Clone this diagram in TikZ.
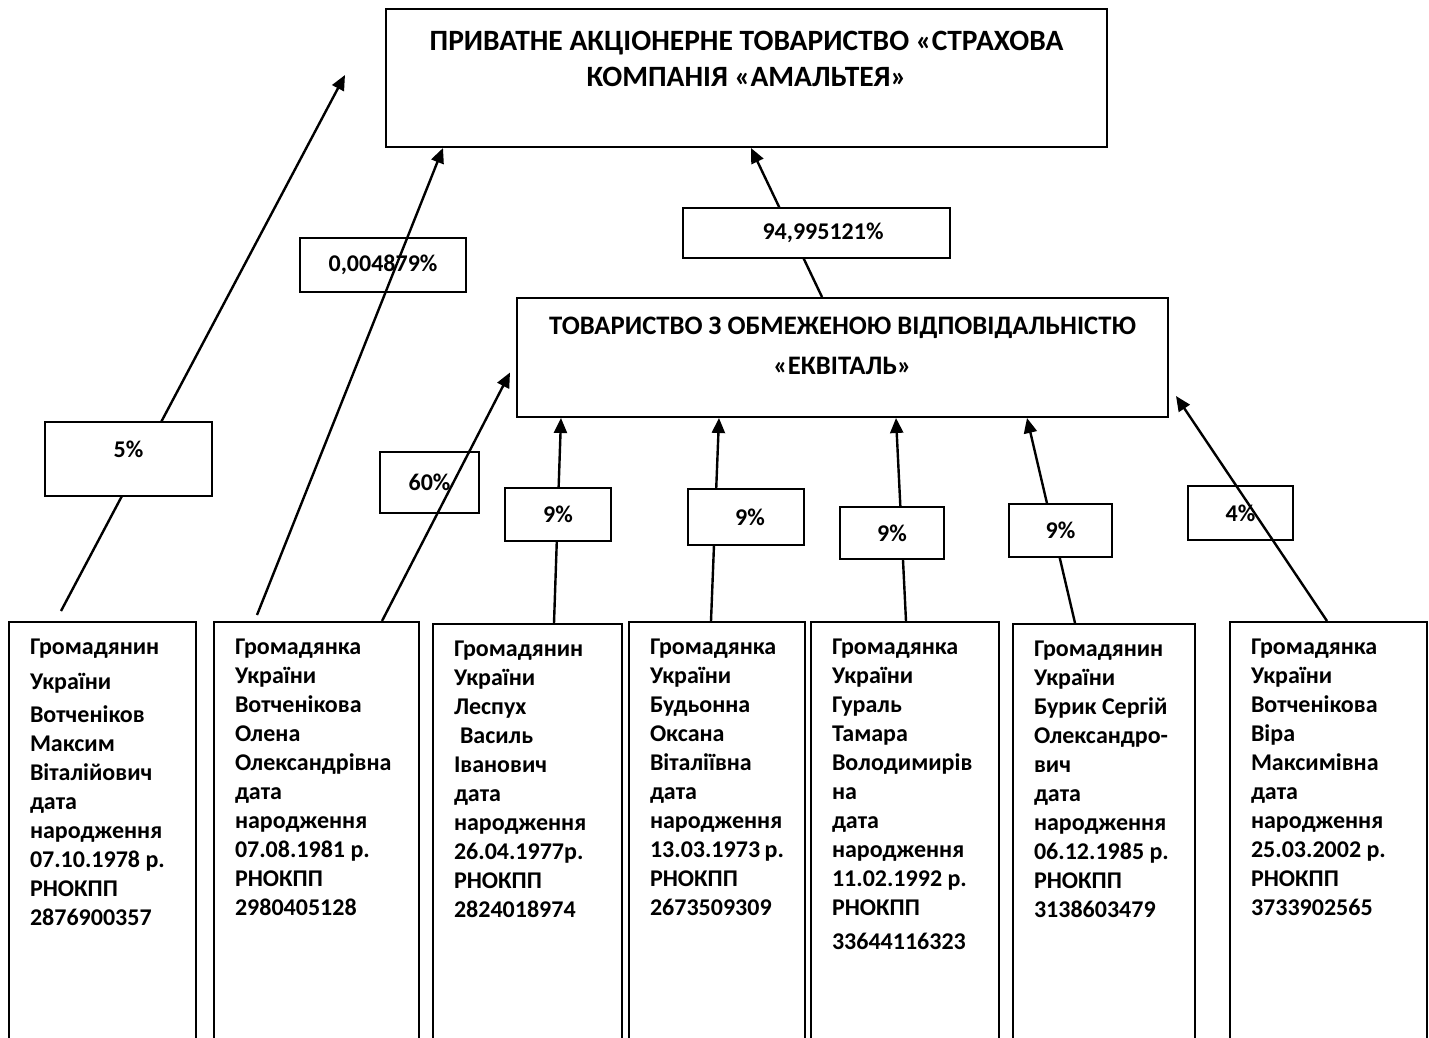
\documentclass[tikz,border=0pt]{standalone}
\usepackage{fontspec}
\setmainfont{Carlito}
\usetikzlibrary{calc,arrows.meta}

\begin{document}
\begin{tikzpicture}[x=1pt,y=-1pt,
    every node/.style={font=\bfseries\fontsize{24}{29}\selectfont},
    box/.style={draw,line width=2pt,inner sep=0pt},
    pbox/.style={box,anchor=north west,inner xsep=21pt},
    lbl/.style={draw,line width=2pt,fill=white,inner sep=0pt},
    arr/.style={line width=2.4pt,-{Triangle[length=15pt,width=13pt]}}]
\useasboundingbox (0,0) rectangle (1429,1038);
\clip (0,0) rectangle (1429,1038);

\node[box] (org) at (746.5,78) {\parbox[c][138pt][t]{721pt}{\centering\fontsize{29.5}{36}\selectfont
    \rule{0pt}{42pt}ПРИВАТНЕ АКЦІОНЕРНЕ ТОВАРИСТВО «СТРАХОВА\\КОМПАНІЯ «АМАЛЬТЕЯ»}};
\node[box] (eqv) at (842.5,357.5) {\parbox[c][119pt][t]{651pt}{\centering\fontsize{26.7}{40}\selectfont
    \rule{0pt}{36.5pt}ТОВАРИСТВО З ОБМЕЖЕНОЮ ВІДПОВІДАЛЬНІСТЮ\\«ЕКВІТАЛЬ»}};

\node[pbox] (p1) at (8,621) {\parbox[t][440pt][t]{145pt}{\raggedright\rule{0pt}{32pt}Громадянин\\[6pt]
    України\\[4pt] Вотченіков\\ Максим\\ Віталійович\\ дата\\ народження\\ 07.10.1978~р.\\ РНОКПП\\ 2876900357}};
\node[pbox] (p2) at (213,621) {\parbox[t][440pt][t]{163pt}{\raggedright\rule{0pt}{32pt}Громадянка\\
    України\\ Вотченікова\\ Олена\\ Олександрівна\\ дата\\ народження\\ 07.08.1981~р.\\ РНОКПП\\ 2980405128}};
\node[pbox] (p3) at (432,623) {\parbox[t][440pt][t]{147pt}{\raggedright\rule{0pt}{32pt}Громадянин\\
    України\\ Леспух\\ \hspace*{6pt}Василь\\ Іванович\\ дата\\ народження\\ 26.04.1977р.\\ РНОКПП\\ 2824018974}};
\node[pbox] (p4) at (628,621) {\parbox[t][440pt][t]{134pt}{\raggedright\rule{0pt}{32pt}Громадянка\\
    України\\ Будьонна\\ Оксана\\ Віталіївна\\ дата\\ народження\\ 13.03.1973~р.\\ РНОКПП\\ 2673509309}};
\node[pbox] (p5) at (810,621) {\parbox[t][440pt][t]{146pt}{\raggedright\rule{0pt}{32pt}Громадянка\\
    України\\ Гураль\\ Тамара\\ Володимирів\\ на\\ дата\\ народження\\ 11.02.1992~р.\\ РНОКПП\\[5pt] 33644116323}};
\node[pbox] (p6) at (1012,623) {\parbox[t][440pt][t]{140pt}{\raggedright\rule{0pt}{32pt}Громадянин\\
    України\\ Бурик Сергій\\ Олександро-\\ вич\\ дата\\ народження\\ 06.12.1985~р.\\ РНОКПП\\ 3138603479}};
\node[pbox] (p7) at (1229,621) {\parbox[t][440pt][t]{155pt}{\raggedright\rule{0pt}{32pt}Громадянка\\
    України\\ Вотченікова\\ Віра\\ Максимівна\\ дата\\ народження\\ 25.03.2002~р.\\ РНОКПП\\ 3733902565}};

\coordinate (t1) at (345,75);
\draw[arr] ($(p1.north west)+(53,-10)$) -- (t1);
\draw[arr] ($(p2.north west)+(44,-6)$) -- ($(org.south west)+(58,0)$);
\draw[arr] ($(p2.north west)+(169,0)$) -- ($(eqv.west)+(-6,15)$);
\foreach \p/\a/\b in {p3/122/45,p4/83/203,p5/96/380,p6/63/511}
    \draw[arr] ($(\p.north west)+(\a,0)$) -- ($(eqv.south west)+(\b,0)$);
\draw[arr] ($(p7.north west)+(98,0)$) -- ($(eqv.south east)+(7,-22)$);
\draw[arr] ($(eqv.north west)+(306,0)$) -- ($(org.south west)+(366,0)$);

\node[lbl,minimum width=167pt,minimum height=74pt,text depth=20pt] (l1) at (128.5,459) {5\%\hspace{11pt}};
\node[lbl,fill=none,minimum width=166pt,minimum height=54pt] (l2) at (383,265) {0,004879\%\hspace{18pt}};
\node[lbl,fill=none,minimum width=99pt,minimum height=61pt] (l3) at (429.5,482.5) {60\%\hspace{15pt}};
\node[lbl,minimum width=106pt,minimum height=53pt] (l4) at (558,514.5) {9\%\hspace{34pt}};
\node[lbl,minimum width=116pt,minimum height=56pt] (l5) at (746,517) {\hspace{8pt}9\%};
\node[lbl,minimum width=104pt,minimum height=52pt] (l6) at (892,533) {9\%\hspace{14pt}};
\node[lbl,minimum width=103pt,minimum height=53pt] (l7) at (1060.5,530.5) {9\%\hspace{13pt}};
\node[lbl,fill=none,minimum width=105pt,minimum height=54pt] (l8) at (1240.5,513) {4\%\hspace{15pt}};
\node[lbl,minimum width=267pt,minimum height=50pt] (l9) at (816.5,233) {\hspace{13pt}94,995121\%};
\end{tikzpicture}
\end{document}
